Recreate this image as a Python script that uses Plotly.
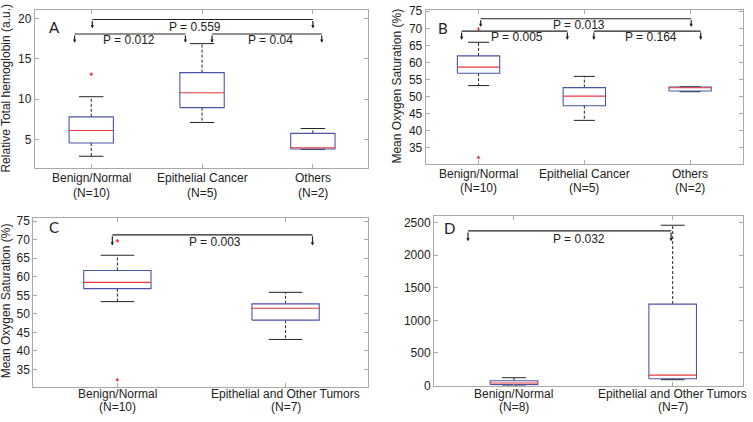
import plotly.graph_objects as go

W, H = 753, 422

# ---------------- data ----------------
# Panel A: Relative total hemoglobin
a_cats = ["Benign/Normal", "Epithelial Cancer", "Others"]
a_ns = ["(N=10)", "(N=5)", "(N=2)"]
a_wlo = [2.9, 7.1, 3.75]
a_q1 = [4.55, 8.95, 3.8]
a_med = [6.1, 10.8, 3.95]
a_q3 = [7.8, 13.3, 5.75]
a_whi = [10.3, 16.9, 6.35]
a_out_x = [1]
a_out_y = [13.1]
a_pvals = ["P = 0.012", "P = 0.04", "P = 0.559"]
a_yticks = [5, 10, 15, 20]

# Panel B: Mean oxygen saturation (3 groups)
b_cats = ["Benign/Normal", "Epithelial Cancer", "Others"]
b_ns = ["(N=10)", "(N=5)", "(N=2)"]
b_wlo = [53.2, 43.0, 51.4]
b_q1 = [56.8, 47.3, 51.6]
b_med = [58.6, 50.1, 52.55]
b_q3 = [61.9, 52.6, 52.8]
b_whi = [65.9, 55.9, 52.85]
b_out_x = [1, 1]
b_out_y = [69.8, 32.1]
b_pvals = ["P = 0.005", "P = 0.164", "P = 0.013"]
b_yticks = [35, 40, 45, 50, 55, 60, 65, 70, 75]

# Panel C: Mean oxygen saturation (2 groups)
c_cats = ["Benign/Normal", "Epithelial and Other Tumors"]
c_ns = ["(N=10)", "(N=7)"]
c_wlo = [53.3, 43.1]
c_q1 = [56.8, 48.3]
c_med = [58.5, 51.5]
c_q3 = [61.7, 52.7]
c_whi = [65.8, 55.8]
c_out_x = [1, 1]
c_out_y = [69.7, 32.2]
c_pvals = ["P = 0.003"]
c_yticks = [35, 40, 45, 50, 55, 60, 65, 70, 75]

# Panel D
d_cats = ["Benign/Normal", "Epithelial and Other Tumors"]
d_ns = ["(N=8)", "(N=7)"]
d_wlo = [0, 90]
d_q1 = [15, 105]
d_med = [40, 160]
d_q3 = [75, 1250]
d_whi = [120, 2460]
d_out_x = []
d_out_y = []
d_pvals = ["P = 0.032"]
d_yticks = [0, 500, 1000, 1500, 2000, 2500]

# ---------------- styles ----------------
BLUE = "#4a55a6"
RED = "#e8383a"
INK = "#222222"
FRAME = "#a9a9a9"
FONT = "Liberation Sans, Arial, sans-serif"

fig = go.Figure()


def add_boxes(xa, ya, wlo, q1, med, q3, whi, ox, oy, bw, cw):
    xs = list(range(1, len(q1) + 1))
    wx, wy, bx, by, mx, my, cx, cy = [], [], [], [], [], [], [], []
    for i, x in enumerate(xs):
        wx += [x, x, None, x, x, None]
        wy += [q3[i], whi[i], None, q1[i], wlo[i], None]
        bx += [x - bw / 2, x + bw / 2, x + bw / 2, x - bw / 2, x - bw / 2, None]
        by += [q1[i], q1[i], q3[i], q3[i], q1[i], None]
        mx += [x - bw / 2, x + bw / 2, None]
        my += [med[i], med[i], None]
        cx += [x - cw / 2, x + cw / 2, None, x - cw / 2, x + cw / 2, None]
        cy += [whi[i], whi[i], None, wlo[i], wlo[i], None]
    common = dict(xaxis=xa, yaxis=ya, mode="lines", showlegend=False, hoverinfo="skip")
    fig.add_trace(go.Scatter(x=wx, y=wy, line=dict(color=INK, width=1, dash="3px,2px"), **common))
    fig.add_trace(go.Scatter(x=cx, y=cy, line=dict(color=INK, width=1), **common))
    fig.add_trace(go.Scatter(x=bx, y=by, line=dict(color=BLUE, width=1.1), **common))
    fig.add_trace(go.Scatter(x=mx, y=my, line=dict(color=RED, width=1.1), **common))
    if ox:
        fig.add_trace(go.Scatter(x=ox, y=oy, xaxis=xa, yaxis=ya, mode="markers", showlegend=False,
                                 marker=dict(symbol="cross-thin", size=2.5, line=dict(color=RED, width=1.2))))


def add_bracket(xa, ya, x0, x1, ytop, ytip, label, xt, yt):
    fig.add_trace(go.Scatter(x=[x0, x1], y=[ytop, ytop], xaxis=xa, yaxis=ya, mode="lines",
                             line=dict(color=INK, width=1.2), showlegend=False, hoverinfo="skip"))
    for xx in (x0, x1):
        fig.add_annotation(x=xx, y=ytip, ax=xx, ay=ytop, xref=xa, yref=ya, axref=xa, ayref=ya,
                           text="", showarrow=True, arrowhead=2, arrowsize=0.55, arrowwidth=1.2,
                           arrowcolor=INK, standoff=0)
    fig.add_annotation(x=xt, y=yt, xref=xa, yref=ya, text=label, showarrow=False,
                       font=dict(size=12, color=INK, family=FONT))


def add_cat_labels(xa, cats, ns, y1_px, y2_px):
    for i in range(len(cats)):
        for txt, ypx in ((cats[i], y1_px), (ns[i], y2_px)):
            fig.add_annotation(x=i + 1, y=1 - ypx / H, xref=xa, yref="paper", text=txt,
                               showarrow=False, xanchor="center", yanchor="middle", borderpad=0,
                               font=dict(size=12, color=INK, family=FONT))


# Panel A
add_boxes("x", "y", a_wlo, a_q1, a_med, a_q3, a_whi, a_out_x, a_out_y, 0.4, 0.22)
add_bracket("x", "y", 0.85, 1.85, 18.1, 17.0, a_pvals[0], 1.34, 17.35)
add_bracket("x", "y", 2.09, 3.08, 18.1, 17.0, a_pvals[1], 2.62, 17.35)
add_bracket("x", "y", 1.01, 3.0, 19.9, 18.8, a_pvals[2], 1.94, 19.0)
add_cat_labels("x", a_cats, a_ns, 178, 193)

# Panel B
add_boxes("x2", "y2", b_wlo, b_q1, b_med, b_q3, b_whi, b_out_x, b_out_y, 0.4, 0.2)
add_bracket("x2", "y2", 0.84, 1.84, 69.2, 66.6, b_pvals[0], 1.36, 67.5)
add_bracket("x2", "y2", 2.09, 3.1, 69.2, 66.6, b_pvals[1], 2.63, 67.5)
add_bracket("x2", "y2", 1.02, 3.01, 72.8, 70.4, b_pvals[2], 1.95, 71.0)
add_cat_labels("x2", b_cats, b_ns, 174, 188.5)

# Panel C
add_boxes("x3", "y3", c_wlo, c_q1, c_med, c_q3, c_whi, c_out_x, c_out_y, 0.4, 0.2)
add_bracket("x3", "y3", 0.97, 2.16, 71.3, 68.4, c_pvals[0], 1.58, 69.4)
add_cat_labels("x3", c_cats, c_ns, 400, 414)

# Panel D
add_boxes("x4", "y4", d_wlo, d_q1, d_med, d_q3, d_whi, d_out_x, d_out_y, 0.3, 0.15)
add_bracket("x4", "y4", 0.71, 1.99, 2373, 2215, d_pvals[0], 1.41, 2254)
add_cat_labels("x4", d_cats, d_ns, 400, 414)

axis_common = dict(showgrid=False, zeroline=False, showline=True, linecolor=FRAME, linewidth=1,
                   mirror="ticks", ticks="inside", ticklen=4, tickcolor=FRAME,
                   tickfont=dict(size=12, color=INK, family=FONT))
xcommon = dict(showticklabels=False, **axis_common)

fig.update_layout(
    width=W, height=H, margin=dict(l=0, r=0, t=0, b=0),
    paper_bgcolor="white", plot_bgcolor="white", showlegend=False,
    font=dict(family=FONT, color=INK),
    xaxis=dict(domain=[0.0461, 0.4891], range=[0.49, 3.5], tickvals=[1, 2, 3], anchor="y", **xcommon),
    yaxis=dict(domain=[0.6036, 0.9882], range=[1.5, 21.1], tickvals=a_yticks, anchor="x", **axis_common),
    xaxis2=dict(domain=[0.5653, 0.9867], range=[0.5, 3.5], tickvals=[1, 2, 3], anchor="y2", **xcommon),
    yaxis2=dict(domain=[0.613, 0.9889], range=[30.3, 75.5], tickvals=b_yticks, anchor="x2", **axis_common),
    xaxis3=dict(domain=[0.0442, 0.4887], range=[0.5, 2.49], tickvals=[1, 2], anchor="y3", **xcommon),
    yaxis3=dict(domain=[0.0694, 0.481], range=[30.4, 75.9], tickvals=c_yticks, anchor="x3", **axis_common),
    xaxis4=dict(domain=[0.5764, 0.9871], range=[0.496, 2.445], tickvals=[1, 2], anchor="y4", **xcommon),
    yaxis4=dict(domain=[0.0718, 0.4865], range=[0, 2609], tickvals=d_yticks, anchor="x4", **axis_common),
)

# y-axis titles
for txt, xpx, ymid in [("Relative Total hemoglobin (a.u.)", 6, 86),
                       ("Mean Oxygen Saturation (%)", 397, 84),
                       ("Mean Oxygen Saturation (%)", 6, 305)]:
    fig.add_annotation(x=xpx / W, y=1 - ymid / H, xref="paper", yref="paper", text=txt,
                       textangle=-90, showarrow=False, xanchor="center", yanchor="middle",
                       font=dict(size=12, color=INK, family=FONT))

# panel letters
for lab, xpx, ypx in [("A", 54, 23), ("B", 443, 24), ("C", 54, 229), ("D", 449, 230)]:
    fig.add_annotation(x=xpx / W, y=1 - ypx / H, xref="paper", yref="paper", text=lab,
                       showarrow=False, xanchor="center", yanchor="middle",
                       font=dict(size=15, color=INK, family="Lato, Liberation Sans, sans-serif"))

fig.write_html("out.html", config={"displayModeBar": False},
               post_script="document.body.style.margin='0px';document.body.style.overflow='hidden';")
